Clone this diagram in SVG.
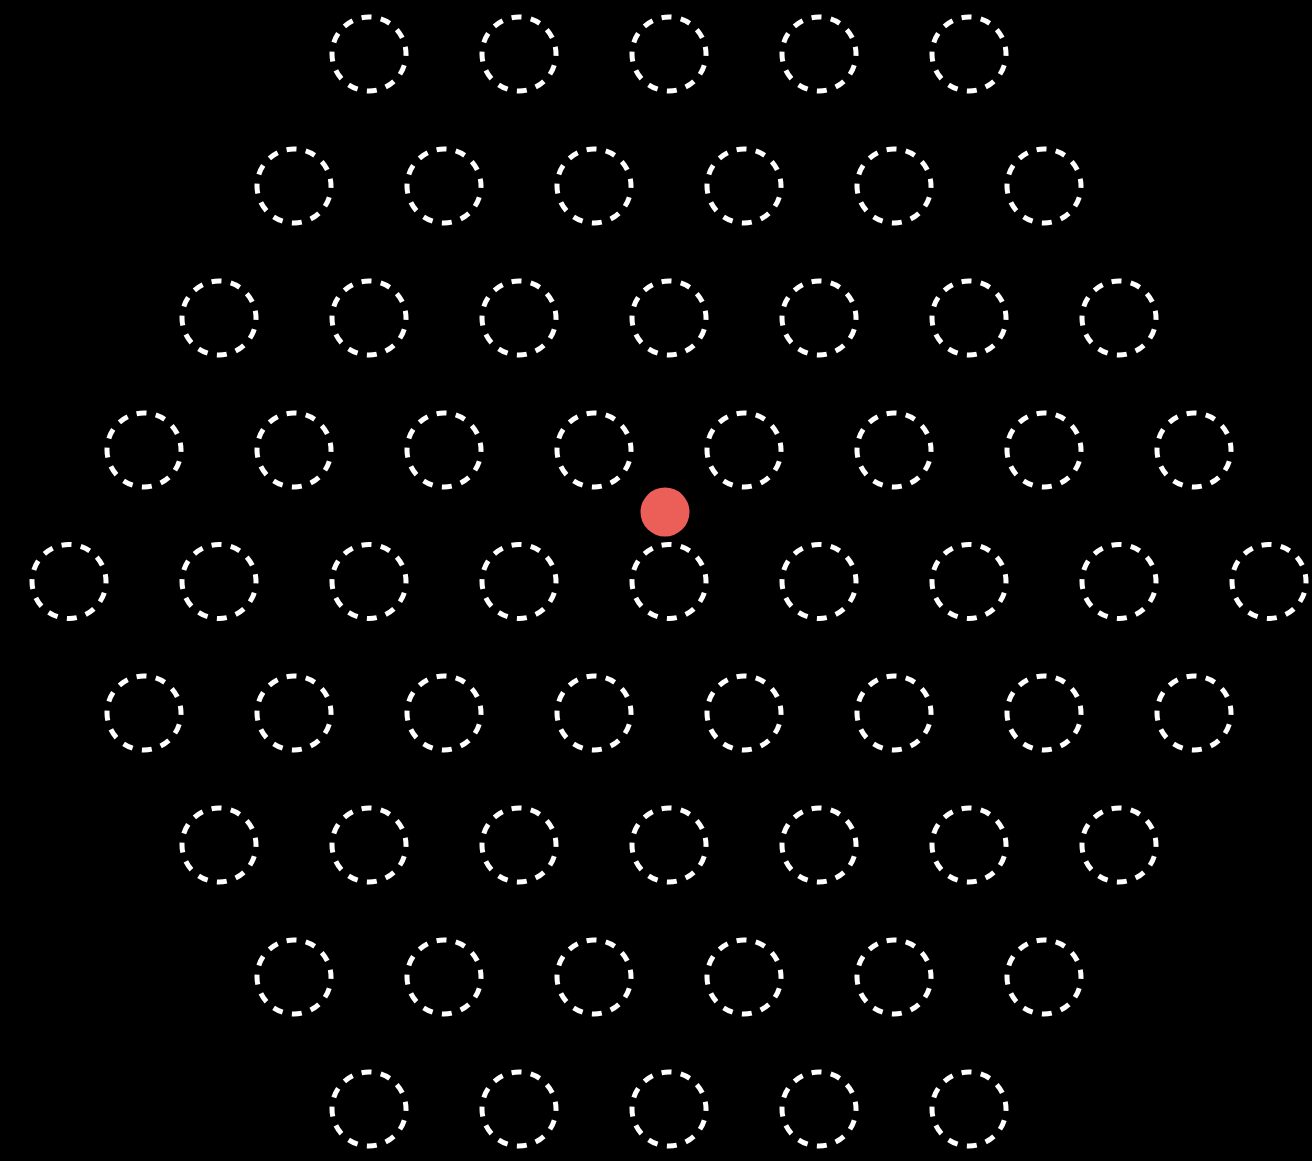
<svg xmlns="http://www.w3.org/2000/svg" width="1312" height="1161" viewBox="0 0 1312 1161">
<style>
.n{fill:none;stroke:#fff;stroke-width:5;stroke-dasharray:10 9.4;stroke-dashoffset:8}
.dot{fill:#ec5f59}
</style>
<defs><circle id="c" r="37"/></defs>
<rect width="1312" height="1161" fill="#000"/>
<g id="connectors"></g>
<g id="nodes">
<g id="r0"><use href="#c" class="n" x="369" y="54"/><use href="#c" class="n" x="519" y="54"/><use href="#c" class="n" x="669" y="54"/><use href="#c" class="n" x="819" y="54"/><use href="#c" class="n" x="969" y="54"/></g>
<g id="r1"><use href="#c" class="n" x="294" y="186"/><use href="#c" class="n" x="444" y="186"/><use href="#c" class="n" x="594" y="186"/><use href="#c" class="n" x="744" y="186"/><use href="#c" class="n" x="894" y="186"/><use href="#c" class="n" x="1044" y="186"/></g>
<g id="r2"><use href="#c" class="n" x="219" y="318"/><use href="#c" class="n" x="369" y="318"/><use href="#c" class="n" x="519" y="318"/><use href="#c" class="n" x="669" y="318"/><use href="#c" class="n" x="819" y="318"/><use href="#c" class="n" x="969" y="318"/><use href="#c" class="n" x="1119" y="318"/></g>
<g id="r3"><use href="#c" class="n" x="144" y="450"/><use href="#c" class="n" x="294" y="450"/><use href="#c" class="n" x="444" y="450"/><use href="#c" class="n" x="594" y="450"/><use href="#c" class="n" x="744" y="450"/><use href="#c" class="n" x="894" y="450"/><use href="#c" class="n" x="1044" y="450"/><use href="#c" class="n" x="1194" y="450"/></g>
<g id="r4"><use href="#c" class="n" x="69" y="581.5"/><use href="#c" class="n" x="219" y="581.5"/><use href="#c" class="n" x="369" y="581.5"/><use href="#c" class="n" x="519" y="581.5"/><use href="#c" class="n" x="669" y="581.5"/><use href="#c" class="n" x="819" y="581.5"/><use href="#c" class="n" x="969" y="581.5"/><use href="#c" class="n" x="1119" y="581.5"/><use href="#c" class="n" x="1269" y="581.5"/></g>
<g id="r5"><use href="#c" class="n" x="144" y="713"/><use href="#c" class="n" x="294" y="713"/><use href="#c" class="n" x="444" y="713"/><use href="#c" class="n" x="594" y="713"/><use href="#c" class="n" x="744" y="713"/><use href="#c" class="n" x="894" y="713"/><use href="#c" class="n" x="1044" y="713"/><use href="#c" class="n" x="1194" y="713"/></g>
<g id="r6"><use href="#c" class="n" x="219" y="845"/><use href="#c" class="n" x="369" y="845"/><use href="#c" class="n" x="519" y="845"/><use href="#c" class="n" x="669" y="845"/><use href="#c" class="n" x="819" y="845"/><use href="#c" class="n" x="969" y="845"/><use href="#c" class="n" x="1119" y="845"/></g>
<g id="r7"><use href="#c" class="n" x="294" y="977"/><use href="#c" class="n" x="444" y="977"/><use href="#c" class="n" x="594" y="977"/><use href="#c" class="n" x="744" y="977"/><use href="#c" class="n" x="894" y="977"/><use href="#c" class="n" x="1044" y="977"/></g>
<g id="r8"><use href="#c" class="n" x="369" y="1109"/><use href="#c" class="n" x="519" y="1109"/><use href="#c" class="n" x="669" y="1109"/><use href="#c" class="n" x="819" y="1109"/><use href="#c" class="n" x="969" y="1109"/></g>
<g id="agent"><circle class="dot" cx="665" cy="512" r="24.5"/></g>
</g>
</svg>
